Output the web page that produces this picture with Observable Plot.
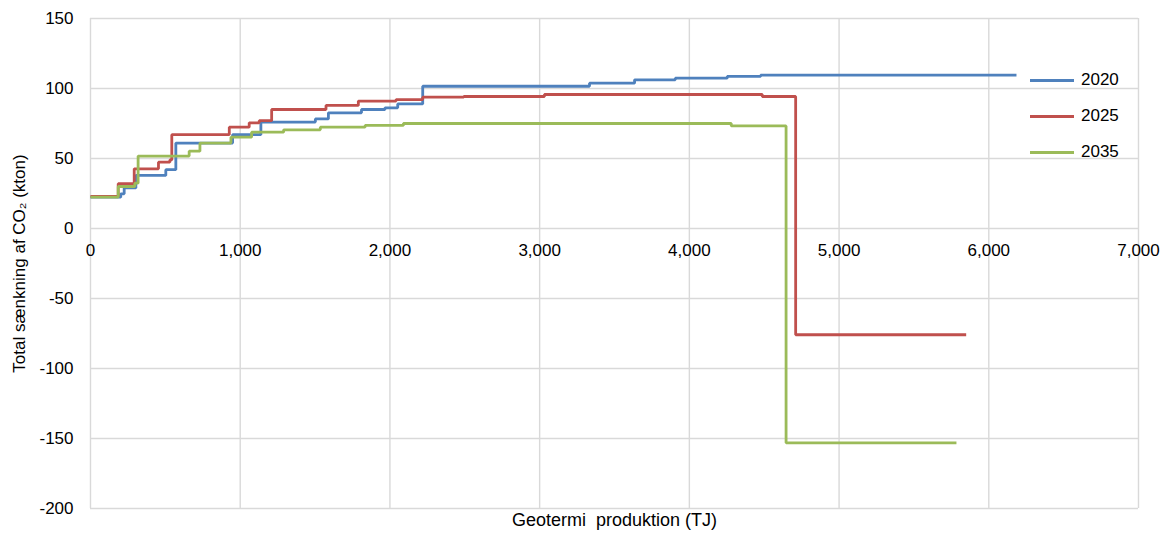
<!DOCTYPE html>
<html>
<head>
<meta charset="utf-8">
<script src="https://cdn.jsdelivr.net/npm/d3@7"></script>
<script src="https://cdn.jsdelivr.net/npm/@observablehq/plot@0.6"></script>
<style>
  body { margin: 0; background: #fff; font-family: "Liberation Sans", Arial, sans-serif; }
  #wrap { position: relative; width: 1173px; height: 538px; }
  #legend { position: absolute; left: 1030px; top: 62px; font-size: 17px; color: #000; }
  .item { display: flex; align-items: center; height: 36px; }
  .sw { width: 44px; height: 3px; margin-right: 7px; }
</style>
</head>
<body>
<div id="wrap"><div id="legend"></div></div>
<script>
// Geothermal production (TJ) breakpoints and CO2 reduction (kton), step series
const x2020 = [0, 202, 225, 303, 503, 570, 949, 1138, 1502, 1589, 1810, 1967, 2052, 2219, 3333, 3634, 3906, 4253, 4476, 6185];
const y2020 = [22.4, 24.8, 29, 37.9, 42, 61, 67, 76, 78.3, 82.6, 85, 86.2, 89, 101.6, 103.8, 106.2, 107.4, 108.6, 109.5, 109.5];

const x2025 = [0, 185, 292, 454, 530, 543, 927, 1060, 1127, 1210, 1573, 1789, 2041, 2219, 2493, 3032, 4487, 4710, 5849];
const y2025 = [23, 32, 42.6, 47.4, 49, 67, 72.4, 75.5, 77, 85, 87.9, 91, 92.1, 93.8, 94.3, 95.7, 94.3, -75.9, -75.9];

const x2035 = [0, 185, 296, 318, 659, 731, 938, 1076, 1290, 1535, 1834, 2090, 4280, 4646, 5784];
const y2035 = [22.4, 30, 32.4, 51.7, 55.2, 61, 65.2, 68.8, 70.5, 72.4, 73.6, 75, 73.3, -153.1, -153.1];

const seriesNames = ["2020", "2025", "2035"];
const seriesColors = ["#4F81BD", "#C0504D", "#9BBB59"];

const xTicks = [0, 1000, 2000, 3000, 4000, 5000, 6000, 7000];
const yTicks = [-200, -150, -100, -50, 0, 50, 100, 150];

const xLabel = "Geotermi\u00a0 produktion (TJ)";
const yLabel = "Total sænkning af CO₂ (kton)";

const allX = [x2020, x2025, x2035];
const allY = [y2020, y2025, y2035];
const rows = [];
seriesNames.forEach((s, i) => {
  allX[i].forEach((x, j) => rows.push({series: s, x, y: allY[i][j]}));
});

const fmt = d3.format(",");

const chart = Plot.plot({
  width: 1173,
  height: 538,
  marginLeft: 90,
  marginRight: 35,
  marginTop: 18,
  marginBottom: 30,
  style: {fontFamily: "'Liberation Sans', Arial, sans-serif", fontSize: "17px", color: "#000", background: "#fff"},
  x: {domain: [0, 7000]},
  y: {domain: [-200, 150]},
  color: {domain: seriesNames, range: seriesColors},
  marks: [
    Plot.gridX(xTicks, {stroke: "#d9d9d9", strokeOpacity: 1, strokeWidth: 1.4}),
    Plot.gridY(yTicks, {stroke: "#d9d9d9", strokeOpacity: 1, strokeWidth: 1.4}),
    Plot.axisY(yTicks, {tickSize: 0, tickPadding: 17, fontSize: 17, tickFormat: d => String(d), label: yLabel, labelAnchor: "center", labelArrow: "none", labelOffset: 78}),
    Plot.axisX([], {label: null}),
    Plot.text(xTicks, {x: d => d, y: 0, text: d => fmt(d), dy: 22, fontSize: 17}),
    Plot.text([xLabel], {frameAnchor: "bottom", text: d => d, dy: 17, fontSize: 18}),
    Plot.line(rows, {x: "x", y: "y", z: "series", stroke: "series", curve: "step-after", strokeWidth: 2.8, strokeLinejoin: "miter", strokeLinecap: "butt"})
  ]
});

const wrap = document.getElementById("wrap");
wrap.insertBefore(chart, wrap.firstChild);
chart.style.position = "absolute";
chart.style.left = "0";
chart.style.top = "0";

const legend = document.getElementById("legend");
seriesNames.forEach((s, i) => {
  const it = document.createElement("div");
  it.className = "item";
  it.innerHTML = `<div class="sw" style="background:${seriesColors[i]}"></div><span>${s}</span>`;
  legend.appendChild(it);
});
</script>
</body>
</html>
